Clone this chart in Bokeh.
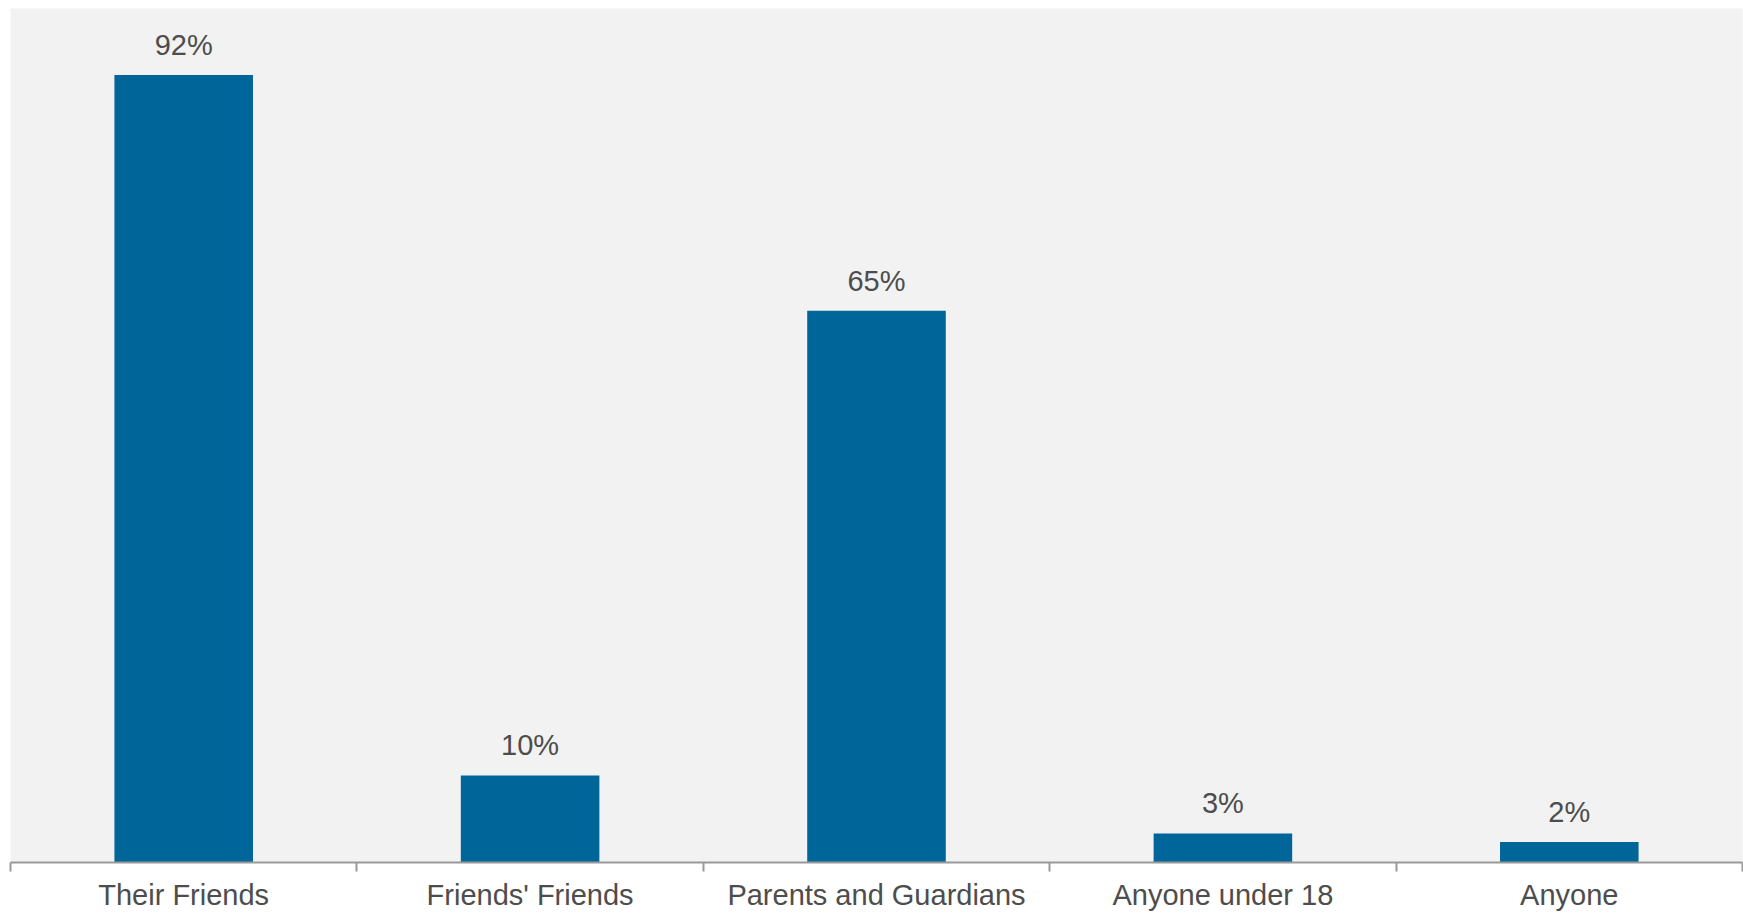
from bokeh.plotting import figure
from bokeh.models import ColumnDataSource, Range1d, LinearAxis, FixedTicker
from bokeh.core.properties import value
from bokeh.embed import file_html
from bokeh.resources import INLINE

categories = ["Their Friends", "Friends' Friends", "Parents and Guardians", "Anyone under 18", "Anyone"]
values = [92.2, 10.2, 64.6, 3.4, 2.4]
labels = ["92%", "10%", "65%", "3%", "2%"]

xs = [i + 0.5 for i in range(len(categories))]
bounds = list(range(len(categories) + 1))
src = ColumnDataSource(dict(x=xs, top=values, label=labels))

FONT = "Liberation Sans"
TXT = "#4d4d4d"
AXC = "#999999"

p = figure(width=1743, height=913, output_backend="svg", toolbar_location=None,
           x_range=Range1d(0, len(categories)), y_range=Range1d(0, 100),
           min_border_left=10, min_border_right=1, min_border_top=8, min_border_bottom=0,
           x_axis_location=None, y_axis_location=None)
p.background_fill_color = "#f2f2f2"
p.border_fill_color = "white"
p.outline_line_color = None
p.xgrid.grid_line_color = None
p.ygrid.grid_line_color = None

p.vbar(x="x", top="top", width=0.4, bottom=0, source=src, color="#006699", line_color=None)
p.text(x="x", y="top", text="label", source=src, text_align="center", text_baseline="alphabetic",
       y_offset=-30, text_font=value(FONT), text_font_size="29px", text_color=TXT)

ax = LinearAxis(ticker=FixedTicker(ticks=xs, minor_ticks=bounds))
ax.major_label_overrides = {x: c for x, c in zip(xs, categories)}
ax.axis_line_color = AXC
ax.axis_line_width = 2
ax.major_tick_line_color = None
ax.major_tick_out = 0
ax.major_tick_in = 0
ax.minor_tick_line_color = AXC
ax.minor_tick_line_width = 2
ax.minor_tick_out = 9
ax.minor_tick_in = 0
ax.major_label_standoff = 7
ax.major_label_text_font = FONT
ax.major_label_text_font_size = "29px"
ax.major_label_text_color = TXT
p.add_layout(ax, "below")

open("out.html", "w").write(file_html(p, INLINE))
